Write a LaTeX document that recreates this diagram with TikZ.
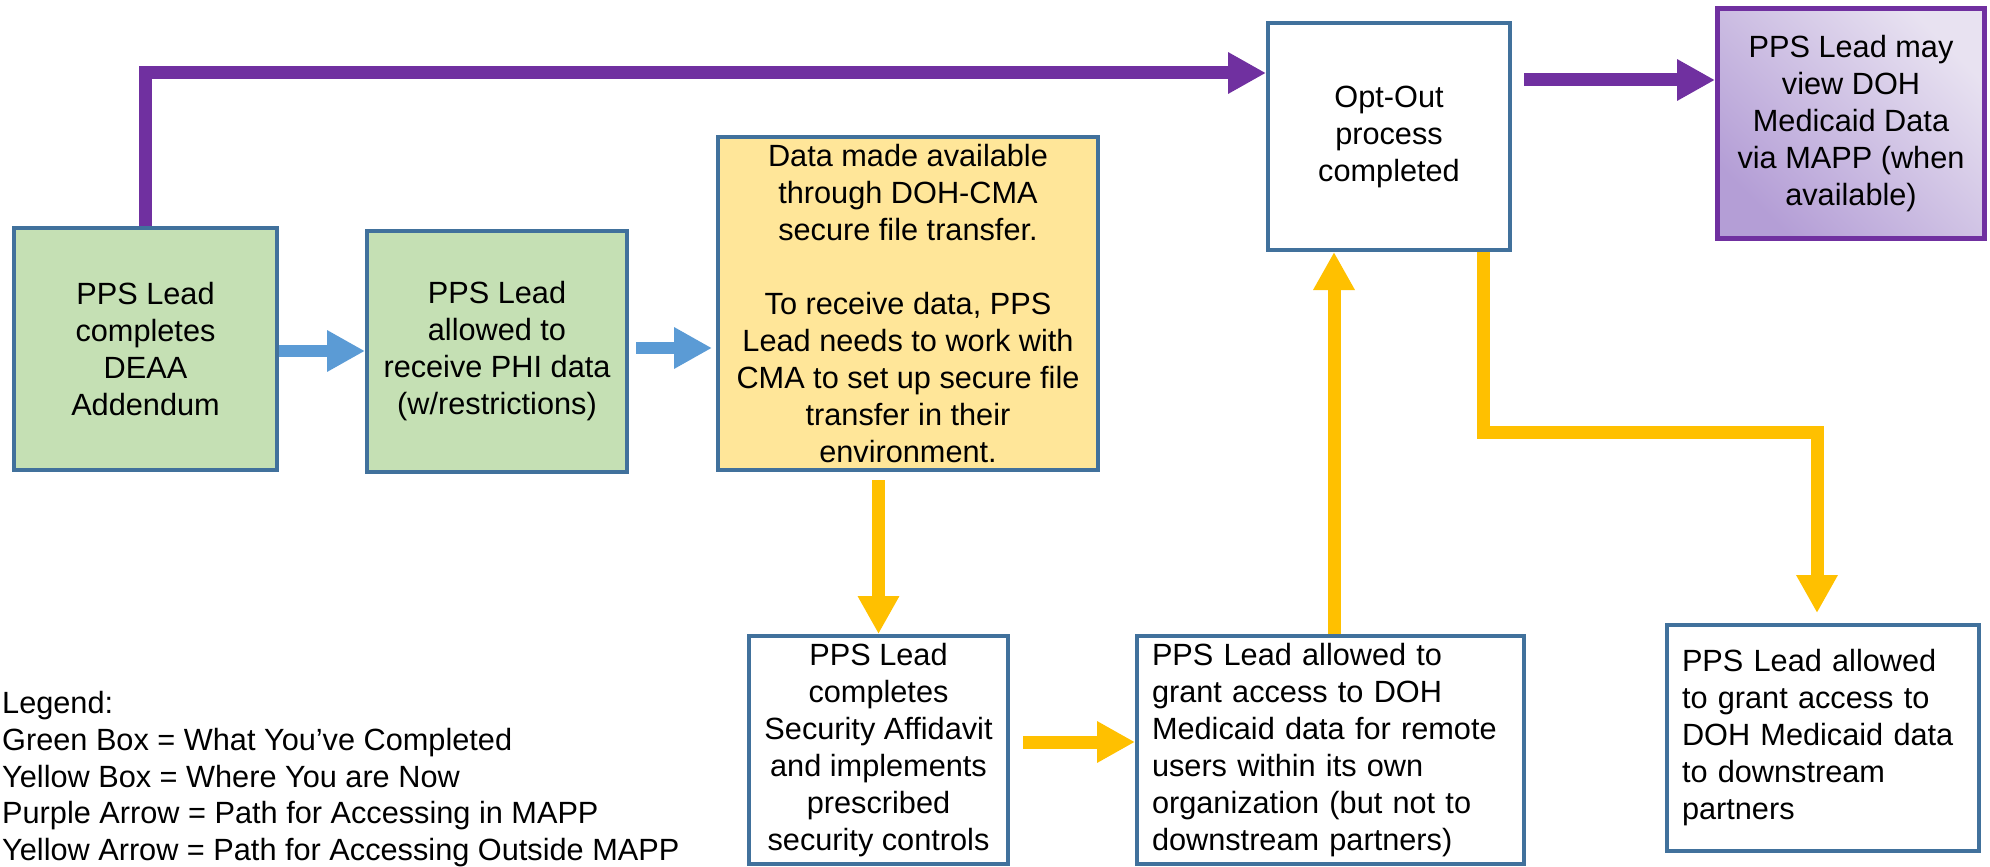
\documentclass[tikz,border=0pt]{standalone}
\usepackage{fontspec}
\setmainfont{Liberation Sans}
\usetikzlibrary{arrows.meta,calc}
\definecolor{boxblue}{HTML}{41719C}
\definecolor{boxgreen}{HTML}{C5E0B4}
\definecolor{boxyellow}{HTML}{FFE699}
\definecolor{arrblue}{HTML}{5B9BD5}
\definecolor{arrpurple}{HTML}{7030A0}
\definecolor{arryellow}{HTML}{FFC000}
\definecolor{lavdark}{HTML}{B49ED6}
\definecolor{lavlight}{HTML}{E8E2F1}
\begin{document}
\begin{tikzpicture}[x=1pt,y=-1pt,
  every node/.style={font=\fontsize{30.7}{37}\selectfont, inner sep=0pt},
  box/.style={draw=boxblue, line width=4pt, align=center},
  lbox/.style={draw=boxblue, line width=4pt, align=left, inner xsep=15pt},
  legtext/.style={anchor=base west},
  barrow/.style={draw=arrblue, line width=12pt, -{Triangle[length=38pt,width=39pt]}},
  parrow/.style={draw=arrpurple, line width=13pt, -{Triangle[length=38pt,width=39pt]}},
  yarrow/.style={draw=arryellow, line width=13pt, -{Triangle[length=38pt,width=39pt]}}
]
\useasboundingbox (0,0) rectangle (1990,867);

\node[box, fill=boxgreen, minimum width=263pt, minimum height=242pt] (deaa) at (145.5,349) {PPS Lead\\completes\\DEAA\\Addendum};
\node[box, fill=boxgreen, minimum width=260pt, minimum height=241pt] (phi) at (497,351.5) {PPS Lead\\allowed to\\receive PHI data\\(w/restrictions)};
\node[box, fill=boxyellow, minimum width=380pt, minimum height=333pt] (cma) at (908,303.5) {Data made available\\through DOH-CMA\\secure file transfer.\\[37pt]To receive data, PPS\\Lead needs to work with\\CMA to set up secure file\\transfer in their\\environment.};
\node[box, fill=white, minimum width=242pt, minimum height=227pt] (optout) at (1389,136.5) {Opt-Out\\process\\completed};
\node[draw=arrpurple, line width=5pt, align=center, left color=lavdark, right color=lavlight, shading angle=135, minimum width=267pt, minimum height=230pt] (mapp) at (1851,123.5) {PPS Lead may\\view DOH\\Medicaid Data\\via MAPP (when\\available)};
\node[box, fill=white, minimum width=259pt, minimum height=228pt] (sec) at (878.5,750) {PPS Lead\\completes\\Security Affidavit\\and implements\\prescribed\\security controls};
\node[lbox, fill=white, text width=357pt, minimum height=228pt] (grant) at (1330.5,750) {PPS Lead allowed to\\grant access to DOH\\Medicaid data for remote\\users within its own\\organization (but not to\\downstream partners)};
\node[lbox, fill=white, text width=282pt, minimum height=226pt] (down) at (1823,738) {PPS Lead allowed\\to grant access to\\DOH Medicaid data\\to downstream\\partners};

\node[legtext] (leg0) at (2,713) {Legend:};
\node[legtext] (leg1) at (2,750) {Green Box = What You’ve Completed};
\node[legtext] (leg2) at (2,787) {Yellow Box = Where You are Now};
\node[legtext] (leg3) at (2,823) {Purple Arrow = Path for Accessing in MAPP};
\node[legtext] (leg4) at (2,860) {Yellow Arrow = Path for Accessing Outside MAPP};

\draw[parrow] (deaa.north) -- (deaa.north |- 0,73) -- (optout.west |- 0,73);
\draw[parrow] ($(optout.east |- 0,80)+(12,0)$) -- (mapp.west |- 0,80);
\draw[barrow] (deaa.east |- 0,351) -- (phi.west |- 0,351);
\draw[barrow] ($(phi.east |- 0,348)+(7,0)$) -- ($(cma.west |- 0,348)+(-4,0)$);
\draw[yarrow] ($(sec.north |- cma.south)+(0,8)$) -- (sec.north);
\draw[yarrow] ($(sec.east |- 0,742)+(13,0)$) -- (grant.west |- 0,742);
\draw[yarrow] (grant.north -| 1334,0) -- (optout.south -| 1334,0);
\coordinate (e1) at (1483,432);
\coordinate (e2) at (1817,432);
\draw[yarrow] (optout.south -| e1) -- (e1) -- (e2) -- ($(down.north -| e2)+(0,-10)$);
\end{tikzpicture}
\end{document}
